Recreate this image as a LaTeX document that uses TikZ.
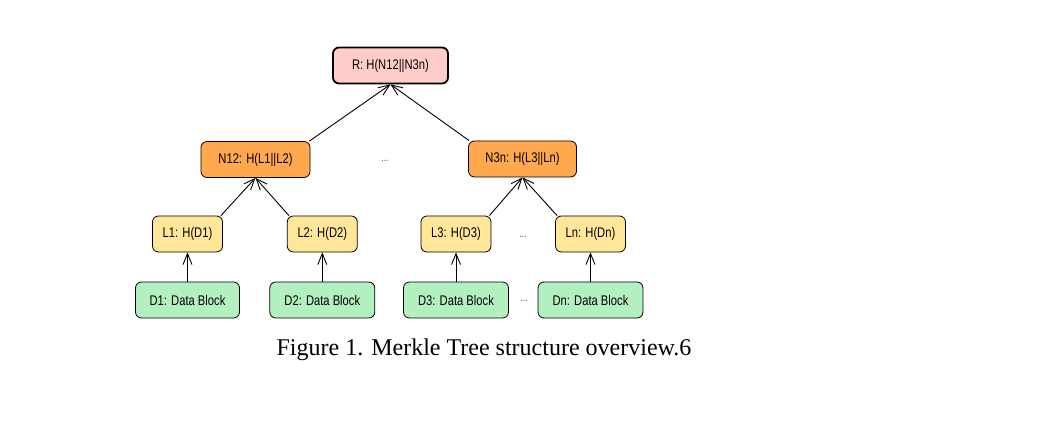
\documentclass[tikz,border=0pt]{standalone}
\usepackage{fontspec}
\setmainfont{Liberation Serif}
\newfontfamily\nodefont[FakeStretch=0.8]{Liberation Sans}
\usetikzlibrary{arrows.meta}
\definecolor{rootc}{HTML}{FFCCCC}
\definecolor{midc}{HTML}{FFA84D}
\definecolor{leafc}{HTML}{FFE699}
\definecolor{datac}{HTML}{B3F0BF}
\definecolor{dotc}{HTML}{555555}
\begin{document}
\begin{tikzpicture}[x=1pt,y=-1pt,
  box/.style={draw, rounded corners=6pt, minimum height=36pt, inner sep=0pt,
    font=\nodefont\fontsize{14}{16}\selectfont, line width=0.8pt},
  rootbox/.style={box, fill=rootc, line width=1.8pt},
  midbox/.style={box, fill=midc},
  leafbox/.style={box, fill=leafc, minimum width=70pt},
  databox/.style={box, fill=datac, minimum width=105pt},
  dots/.style={font=\nodefont\fontsize{11}{12}\selectfont, text=dotc},
  arr/.style={-{Straight Barb[length=11pt,width=9pt]}, line width=0.9pt}]
\useasboundingbox (0,0) rectangle (1041,438);
\node[rootbox, minimum width=115pt] (R) at (390.5,65.5) {R: H(N12||N3n)};
\node[midbox, minimum width=109pt] (N12) at (255.5,159.5) {N12: H(L1||L2)};
\node[midbox, minimum width=108pt] (N3n) at (522.5,159) {N3n: H(L3||Ln)};
\node[dots] (dA) at (385,161) {...};
\node[leafbox] (L1) at (187.5,234) {L1: H(D1)};
\node[leafbox] (L2) at (322.3,234) {L2: H(D2)};
\node[leafbox] (L3) at (456,234) {L3: H(D3)};
\node[dots] (dB) at (523,237) {...};
\node[leafbox] (Ln) at (590.5,234) {Ln: H(Dn)};
\node[databox, minimum width=104pt] (D1) at (187.5,300) {D1: Data Block};
\node[databox] (D2) at (322.3,300) {D2: Data Block};
\node[databox] (D3) at (456,300) {D3: Data Block};
\node[dots] (dC) at (524,301) {...};
\node[databox] (Dn) at (590.5,300) {Dn: Data Block};
\node[font=\fontsize{24}{28}\selectfont] (cap) at (484,350) {Figure 1. Merkle Tree structure overview.6};
\draw[arr] (D1.north) -- (L1.south);
\draw[arr] (D2.north) -- (L2.south);
\draw[arr] (D3.north) -- (L3.south);
\draw[arr] (Dn.north) -- (Ln.south);
\draw[arr] ([xshift=-2pt]L1.north east) -- (N12.south);
\draw[arr] ([xshift=2pt]L2.north west) -- (N12.south);
\draw[arr] ([xshift=-2pt]L3.north east) -- (N3n.south);
\draw[arr] ([xshift=2pt]Ln.north west) -- (N3n.south);
\draw[arr] ([xshift=-1pt]N12.north east) -- (R.south);
\draw[arr] ([xshift=1pt]N3n.north west) -- (R.south);
\end{tikzpicture}
\end{document}
